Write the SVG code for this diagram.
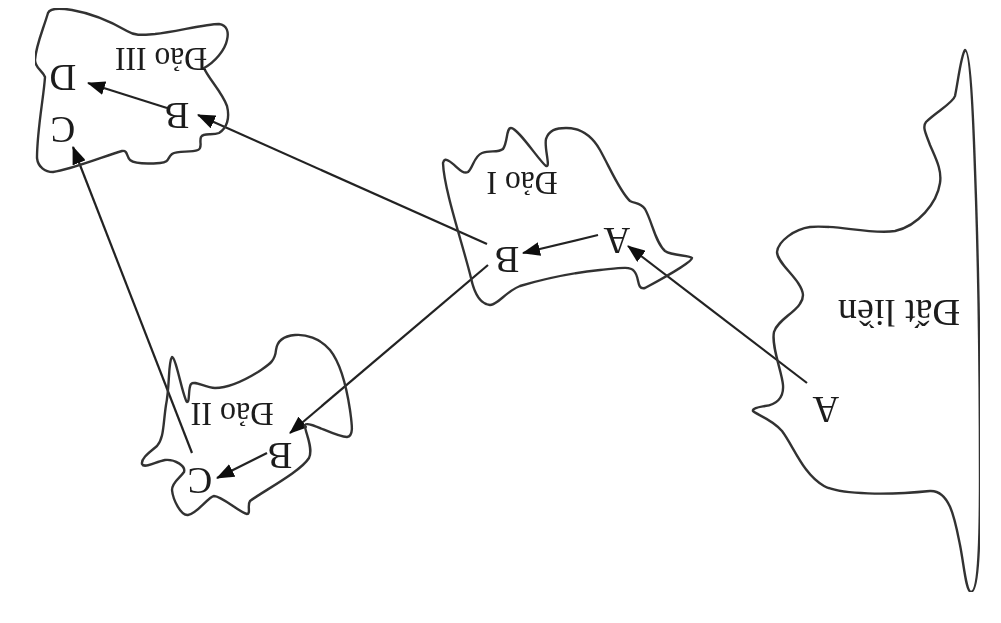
<svg xmlns="http://www.w3.org/2000/svg" width="1001" height="623" viewBox="0 0 1001 623">
<style>
.s{fill:none;stroke:#333;stroke-width:2.4;stroke-linejoin:round;stroke-linecap:round}
.c{fill:none;stroke:#222;stroke-width:2.2;marker-end:url(#a)}
text{font-family:"Liberation Serif","Times New Roman",serif;font-size:37px;fill:#1c1c1c;text-anchor:middle}
.t{font-size:33px}
</style>
<defs>
<marker id="a" markerUnits="userSpaceOnUse" markerWidth="18" markerHeight="14" refX="17" refY="7" orient="auto"><path d="M0 0L18 7L0 14z" fill="#111"/></marker>
<filter id="b" x="0" y="0" width="100%" height="100%"><feGaussianBlur stdDeviation="0.6"/></filter>
</defs>
<rect width="1001" height="623" fill="#fff"/>
<g filter="url(#b)">
<g id="connectors">
<path class="c" d="M807 383L628 246"/>
<path class="c" d="M598 235L523 253"/>
<path class="c" d="M488 265L290 433"/>
<path class="c" d="M487 244L198 115"/>
<path class="c" d="M167 108L88 83"/>
<path class="c" d="M192 453L73 147"/>
<path class="c" d="M267 453L217 478"/>
</g>
<g id="dat-lien">
<path class="s" d="M965 50C961 55 958 82 955 96C953 103 936 112 926 122C922 127 926 134 930 145C936 159 942 170 940 183C937 203 918 226 895 231C870 235 835 224 810 227C795 229 778 241 777 252C777 264 802 280 803 295C803 310 778 318 774 332C771 346 782 372 783 385C784 398 776 405 765 406C760 407 752 408 753 411C755 414 772 419 782 431C794 447 803 474 824 486C840 495 890 495 930 491C950 490 955 520 960 545C964 565 966 592 971 592C977 592 980 560 980 480C980 380 978 250 975 170C973 110 970 50 965 50Z"/>
<text transform="translate(899,300) rotate(180)" textLength="122" lengthAdjust="spacingAndGlyphs">Đất liền</text>
<text transform="translate(826,397) rotate(180)">A</text>
</g>
<g id="dao-1">
<path class="s" d="M443 163C444 159 446 159 449 161C456 165 462 175 468 172C473 168 474 156 482 153C490 150 498 153 503 149C508 142 506 128 511 128C518 128 540 162 546 166C551 168 544 148 546 139C549 130 556 128 566 128C580 128 592 136 600 150C610 168 620 192 630 201C635 204 640 202 645 209C652 221 655 242 665 251C672 256 690 255 692 258C692 262 660 280 645 288C636 290 640 277 634 271C630 266 620 268 600 270C570 273 540 280 520 286C505 292 498 305 490 305C480 304 474 292 471 278C463 245 444 190 443 163Z"/>
<text class="t" transform="translate(522,172) rotate(180)" textLength="71" lengthAdjust="spacingAndGlyphs">Đảo I</text>
<text transform="translate(617,228) rotate(180)">A</text>
<text transform="translate(507,247) rotate(180)">B</text>
</g>
<g id="dao-2">
<path class="s" d="M172 357C168 362 170 385 166 405C163 425 164 438 157 446C150 452 141 458 142 464C144 469 155 462 165 460C175 459 186 466 184 472C180 478 172 482 172 490C173 500 181 516 188 515C197 514 208 497 214 496C222 496 240 513 247 514C251 514 247 505 250 501C265 490 300 472 309 458C314 448 304 430 305 425C308 420 335 437 347 437C354 436 352 425 350 410C347 390 342 365 330 350C320 338 305 334 295 335C283 336 277 342 276 350C275 362 268 365 258 372C245 380 230 388 215 388C205 388 195 380 191 384C188 388 190 402 187 402C183 398 176 357 172 357Z"/>
<text class="t" transform="translate(232,403) rotate(180)" textLength="83" lengthAdjust="spacingAndGlyphs">Đảo II</text>
<text transform="translate(280,443) rotate(180)">B</text>
<text transform="translate(200,468) rotate(180)">C</text>
</g>
<g id="dao-3">
<path class="s" d="M48 13C50 8 60 8 72 10C95 14 115 24 127 31C135 36 142 35 155 34C175 32 205 24 219 24C227 25 229 32 227 40C225 50 215 62 204 68C208 78 222 92 227 106C230 118 227 128 219 133C212 136 204 132 201 137C199 142 203 148 198 150C190 153 178 150 172 154C167 158 170 162 160 163C148 164 135 164 130 160C126 156 128 150 122 151C105 156 70 170 53 172C45 172 38 167 37 158C37 130 44 95 45 77C42 70 35 68 35 60C36 45 43 30 48 13Z"/>
<text class="t" transform="translate(161,48) rotate(180)" textLength="92" lengthAdjust="spacingAndGlyphs">Đảo III</text>
<text transform="translate(177,103) rotate(180)">B</text>
<text transform="translate(63,65) rotate(180)">D</text>
<text transform="translate(63,117) rotate(180)">C</text>
</g>
</g>
</svg>
